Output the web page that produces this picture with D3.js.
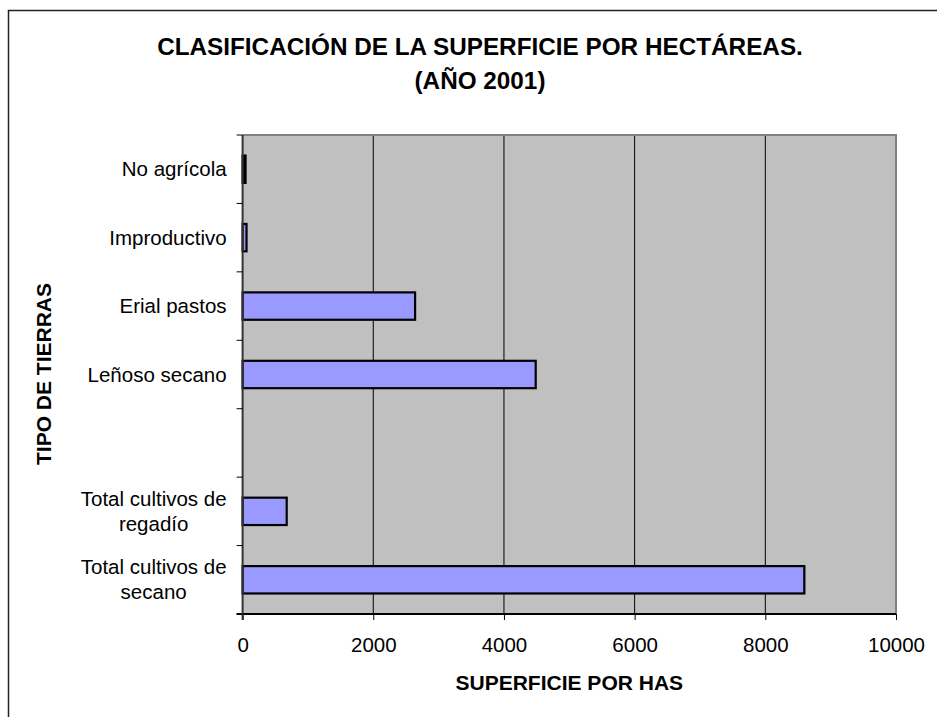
<!DOCTYPE html>
<html>
<head>
<meta charset="utf-8">
<script src="https://cdn.jsdelivr.net/npm/d3@7"></script>
<style>
  body { margin: 0; background: #fff; }
  text { font-family: "Liberation Sans", Arial, sans-serif; fill: #000; }
</style>
</head>
<body>
<div id="chart"></div>
<script>
// categories top to bottom (one empty slot, as in the original sheet)
var categories = [
    ["No agrícola"],
    ["Improductivo"],
    ["Erial pastos"],
    ["Leñoso secano"],
    [],
    ["Total cultivos de", "regadío"],
    ["Total cultivos de", "secano"]
];
var values = [45, 60, 2640, 4486, null, 675, 8597];
var barColors = ["#000000", "#9999ff", "#9999ff", "#9999ff", null, "#9999ff", "#9999ff"];
var xTicks = [0, 2000, 4000, 6000, 8000, 10000];

var width = 937, height = 717;
var plot = {left: 242.6, right: 896, top: 135, bottom: 614};

var svg = d3.select("#chart").append("svg")
    .attr("width", width).attr("height", height);

// outer chart frame (runs off the right and bottom edge)
svg.append("rect")
    .attr("x", 8.5).attr("y", 10.5)
    .attr("width", 960).attr("height", 760)
    .attr("fill", "#fff").attr("stroke", "#222").attr("stroke-width", 1.5);

var x = d3.scaleLinear().domain([0, 10000]).range([plot.left, plot.right]);
var idx = d3.range(categories.length);
var yBand = d3.scaleBand().domain(idx).range([plot.top, plot.bottom]).padding(0);
var yBar = d3.scaleBand().domain(idx).range([plot.top, plot.bottom])
    .paddingInner(0.6).paddingOuter(0.3);

// plot background
svg.append("rect")
    .attr("x", plot.left).attr("y", plot.top)
    .attr("width", plot.right - plot.left).attr("height", plot.bottom - plot.top)
    .attr("fill", "#c0c0c0");

// gridlines
svg.append("g").selectAll("line")
    .data(xTicks.slice(1, -1))
    .enter().append("line")
    .attr("x1", function(d) { return x(d); }).attr("x2", function(d) { return x(d); })
    .attr("y1", plot.top).attr("y2", plot.bottom)
    .attr("stroke", "#000").attr("stroke-width", 1);

// plot border top / right
svg.append("path")
    .attr("d", "M" + plot.left + "," + plot.top + "H" + plot.right + "V" + plot.bottom)
    .attr("fill", "none").attr("stroke", "#808080").attr("stroke-width", 2);

// bars
svg.append("g").selectAll("rect")
    .data(idx.filter(function(i) { return values[i] != null; }))
    .enter().append("rect")
    .attr("x", x(0))
    .attr("y", function(i) { return yBar(i); })
    .attr("width", function(i) { return x(values[i]) - x(0); })
    .attr("height", yBar.bandwidth())
    .attr("fill", function(i) { return barColors[i]; })
    .attr("stroke", "#000").attr("stroke-width", 2.2);

// x axis
var xAxis = d3.axisBottom(x).tickValues(xTicks).tickSize(6).tickPadding(17)
    .tickFormat(d3.format("d"));
var gx = svg.append("g").attr("transform", "translate(0," + plot.bottom + ")").call(xAxis);
gx.select(".domain").attr("stroke", "#000").attr("stroke-width", 2)
    .attr("d", "M" + (plot.left - 6) + ",0H" + plot.right);
gx.selectAll(".tick line").attr("stroke", "#000").attr("stroke-width", 1);
gx.selectAll(".tick text").style("font-size", "20.5px")
    .style("font-family", "'Liberation Sans', Arial, sans-serif").attr("fill", "#000");

// y axis line and boundary ticks
svg.append("line")
    .attr("x1", plot.left).attr("x2", plot.left)
    .attr("y1", plot.top).attr("y2", plot.bottom + 6)
    .attr("stroke", "#333").attr("stroke-width", 2);
svg.append("g").selectAll("line")
    .data(d3.range(categories.length + 1))
    .enter().append("line")
    .attr("x1", plot.left - 6).attr("x2", plot.left)
    .attr("y1", function(k) { return plot.top + k * yBand.step(); })
    .attr("y2", function(k) { return plot.top + k * yBand.step(); })
    .attr("stroke", "#000").attr("stroke-width", 1);

// category labels
var labelRight = plot.left - 16;
idx.forEach(function(i) {
    var lines = categories[i];
    if (!lines.length) return;
    var cy = yBand(i) + yBand.step() / 2;
    var lh = 25;
    var t = svg.append("text")
        .style("font-size", "20.5px")
        .attr("text-anchor", lines.length > 1 ? "middle" : "end");
    lines.forEach(function(s, j) {
        t.append("tspan")
            .attr("y", cy + (j - (lines.length - 1) / 2) * lh)
            .attr("dy", "0.35em")
            .text(s);
    });
    if (lines.length > 1) {
        var w = d3.max(t.selectAll("tspan").nodes(), function(n) { return n.getComputedTextLength(); });
        t.selectAll("tspan").attr("x", labelRight - w / 2);
    } else {
        t.selectAll("tspan").attr("x", labelRight);
    }
});

// titles
var title = svg.append("text")
    .attr("text-anchor", "middle")
    .style("font-size", "24.3px").style("font-weight", "bold");
title.append("tspan").attr("x", 480).attr("y", 54.5)
    .text("CLASIFICACIÓN DE LA SUPERFICIE POR HECTÁREAS.");
title.append("tspan").attr("x", 480).attr("y", 89)
    .text("(AÑO 2001)");

svg.append("text")
    .attr("x", (plot.left + plot.right) / 2).attr("y", 690)
    .attr("text-anchor", "middle")
    .style("font-size", "21px").style("font-weight", "bold")
    .text("SUPERFICIE POR HAS");

svg.append("text")
    .attr("transform", "translate(51," + 374 + ") rotate(-90)")
    .attr("text-anchor", "middle")
    .style("font-size", "21px").style("font-weight", "bold")
    .text("TIPO DE TIERRAS");
</script>
</body>
</html>
